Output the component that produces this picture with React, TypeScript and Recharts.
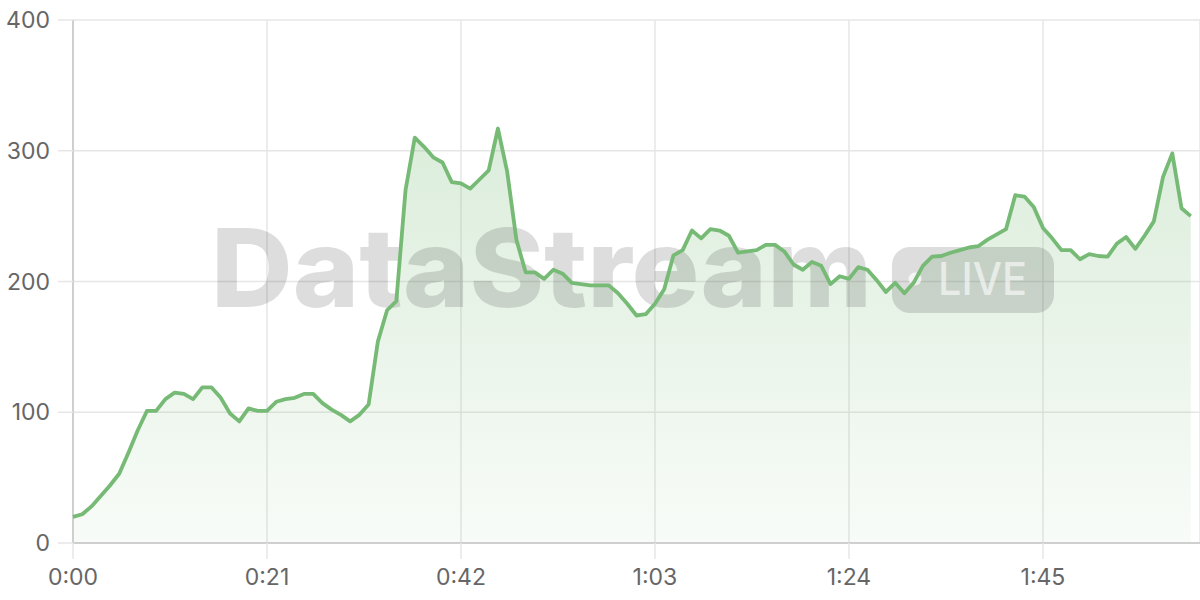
import React from 'react';
import { AreaChart, Area, LineChart, Line, XAxis, YAxis, CartesianGrid } from 'recharts';

// seconds since start (0..121)
const seconds: number[] = Array.from({ length: 122 }, (_, i) => i);

const values: number[] = [
  20, 22, 28, 36, 44, 53, 69, 86, 101, 101,
  110, 115, 114, 110, 119, 119, 111, 99, 93, 103,
  101, 101, 108, 110, 111, 114, 114, 107, 102, 98,
  93, 98, 106, 154, 178, 185, 270, 310, 303, 295,
  291, 276, 275, 271, 278, 285, 317, 284, 232, 207,
  207, 202, 209, 206, 199, 198, 197, 197, 197, 191,
  183, 174, 175, 183, 194, 220, 224, 239, 233, 240,
  239, 235, 222, 223, 224, 228, 228, 223, 213, 209,
  215, 212, 198, 204, 202, 211, 209, 201, 192, 199,
  191, 199, 212, 219, 219.5, 222, 224, 226, 227, 232,
  236, 240, 266, 265, 257, 241, 233, 224, 224, 217,
  221, 219.5, 219, 229, 234, 225, 235, 246, 280, 298,
  256, 250,
];

const xTicks: number[] = [0, 21, 42, 63, 84, 105];
const yTicks: number[] = [0, 100, 200, 300, 400];
const watermarkTitle = 'DataStream';
const watermarkBadge = 'LIVE';

const data = seconds.map((t, i) => ({ t, v: values[i] }));

const fmt = (s: number) => `${Math.floor(s / 60)}:${String(s % 60).padStart(2, '0')}`;

const GREEN = '#76ba76';
const GRID = '#e6e6e6';
const FONT = 'Inter, "Noto Sans", sans-serif';
const W = 1200;
const H = 600;

export default function App() {
  const tickStyle = { fill: '#666', fontSize: 23, fontFamily: FONT };
  return (
    <div style={{ position: 'absolute', left: 0, top: 0, width: W, height: H, background: '#fff' }}>
      <div style={{ position: 'absolute', left: 0, top: 0 }}>
        <AreaChart width={W} height={H} data={data} margin={{ top: 20, right: 0, bottom: 0, left: 0 }}>
          <defs>
            <linearGradient id="fillG" x1="0" y1="0" x2="0" y2="1">
              <stop offset="0%" stopColor={GREEN} stopOpacity={0.26} />
              <stop offset="100%" stopColor={GREEN} stopOpacity={0.05} />
            </linearGradient>
          </defs>
          <CartesianGrid stroke={GRID} strokeWidth={1.5} />
          <XAxis
            dataKey="t"
            type="number"
            domain={[0, 122]}
            ticks={xTicks}
            tickFormatter={fmt}
            height={57}
            tickSize={16}
            tickMargin={10}
            tick={tickStyle}
            tickLine={{ stroke: GRID, strokeWidth: 1.5 }}
            axisLine={{ stroke: '#cfcfcf', strokeWidth: 2 }}
          />
          <YAxis
            type="number"
            domain={[0, 400]}
            ticks={yTicks}
            width={73}
            tickSize={15}
            tickMargin={8}
            tick={tickStyle}
            tickLine={{ stroke: GRID, strokeWidth: 1.5 }}
            axisLine={{ stroke: '#cfcfcf', strokeWidth: 2 }}
          />
          <Area
            type="linear"
            dataKey="v"
            stroke="none"
            fill="url(#fillG)"
            fillOpacity={1}
            isAnimationActive={false}
            dot={false}
            activeDot={false}
          />
        </AreaChart>
      </div>
      <svg
        width={W}
        height={H}
        style={{ position: 'absolute', left: 0, top: 0, pointerEvents: 'none' }}
      >
        <text
          x={211}
          y={307}
          fontFamily={FONT}
          fontWeight={800}
          fontSize={109}
          textLength={661}
          lengthAdjust="spacingAndGlyphs"
          fill="rgba(0,0,0,0.135)"
        >
          {watermarkTitle}
        </text>
        <rect x={892} y={247} width={162} height={66} rx={18} fill="rgba(0,0,0,0.135)" />
        <circle cx={915} cy={279} r={6.5} fill="rgba(255,255,255,0.7)" />
        <text
          x={938}
          y={295}
          fontFamily={FONT}
          fontWeight={500}
          fontSize={45}
          textLength={89}
          lengthAdjust="spacingAndGlyphs"
          fill="rgba(255,255,255,0.6)"
        >
          {watermarkBadge}
        </text>
      </svg>
      <div style={{ position: 'absolute', left: 0, top: 0 }}>
        <LineChart width={W} height={H} data={data} margin={{ top: 20, right: 0, bottom: 57, left: 73 }}>
          <XAxis dataKey="t" type="number" domain={[0, 122]} hide />
          <YAxis type="number" domain={[0, 400]} hide />
          <Line
            type="linear"
            dataKey="v"
            stroke={GREEN}
            strokeWidth={3.8}
            strokeLinejoin="round"
            dot={false}
            activeDot={false}
            isAnimationActive={false}
          />
        </LineChart>
      </div>
    </div>
  );
}
